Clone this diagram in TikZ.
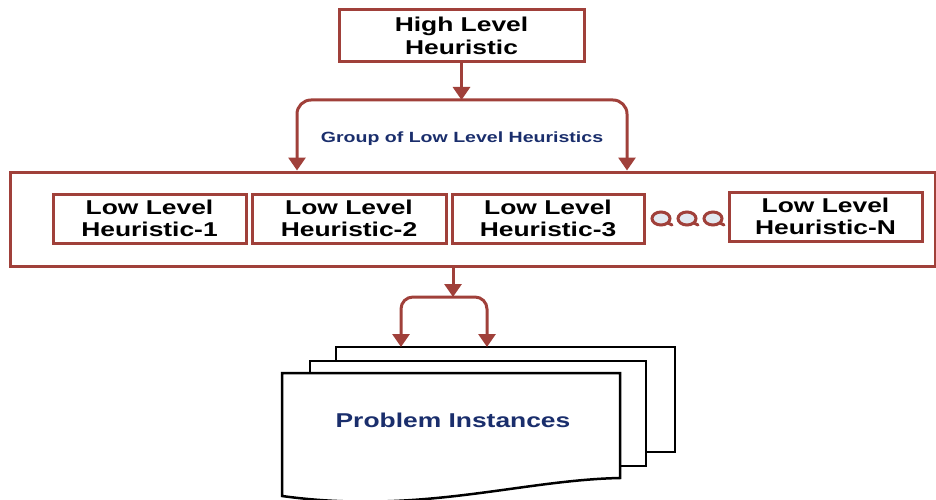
\documentclass[tikz,border=0pt]{standalone}
\usepackage{fontspec}
\setmainfont{Liberation Sans}
\newfontfamily\lblfont[FakeStretch=1.32]{Liberation Sans}
\usetikzlibrary{arrows.meta}
\definecolor{brick}{HTML}{A0403A}
\definecolor{navy}{HTML}{1A2E6C}
\definecolor{bubble}{HTML}{E3E9F1}
\begin{document}
\begin{tikzpicture}[x=1pt,y=-1pt,
  box/.style={draw=brick, line width=3pt, fill=white, inner sep=0pt,
    font=\lblfont\bfseries\fontsize{20}{22.5}\selectfont, align=center},
  arr/.style={draw=brick, line width=3pt, -{Triangle[width=17pt,length=13pt]}},
  arrboth/.style={draw=brick, line width=3pt, {Triangle[width=17pt,length=13pt]}-{Triangle[width=17pt,length=13pt]}},
  doc/.style={draw=black, line width=2.5pt, fill=white},
  dot/.style={draw=brick, line width=3pt, fill=bubble},
  tail/.style={draw=brick, line width=3pt, line cap=round}]
\useasboundingbox (0,0) rectangle (936,500);

% group box and members
\node[box, minimum width=925pt, minimum height=94pt] (grp) at (472.5,219) {};
\node[box, minimum width=245pt, minimum height=52pt] (hlh) at (461.5,36) {High Level\\Heuristic};
\node[box, minimum width=193pt, minimum height=49pt] (l1) at (149.5,218.5) {Low Level\\Heuristic-1};
\node[box, minimum width=194pt, minimum height=49pt] (l2) at (349,218.5) {Low Level\\Heuristic-2};
\node[box, minimum width=192pt, minimum height=49pt] (l3) at (548,218.5) {Low Level\\Heuristic-3};
\node[box, minimum width=193pt, minimum height=49pt] (ln) at (825.5,216.5) {Low Level\\Heuristic-N};

% ellipsis bubbles
\foreach \cx in {661,687,713}{
  \draw[tail] (\cx+5,222) -- (\cx+11,225);
  \draw[dot] (\cx,218.5) ellipse [x radius=9, y radius=6.5];
}

% label
\node[font=\lblfont\bfseries\fontsize{14.8}{17}\selectfont, text=navy] (glab) at (462,139) {Group of Low Level Heuristics};

% top connectors
\coordinate (brk) at (461.5,100);
\draw[arr] (hlh.south) -- (brk);
\path (grp.north) ++(-175.5,0) coordinate (bl);
\path (grp.north) ++(154.5,0) coordinate (br);
\draw[arrboth, rounded corners=14pt] (bl) -- (bl |- brk) -- (br |- brk) -- (br);

% documents
\draw[doc] (336,347) rectangle (675,452);
\draw[doc] (310,361) rectangle (646,466);
\draw[doc] (282,373) -- (620,373) -- (620,478) .. controls (520,480) and (420,515) .. (282,496) -- cycle;
\node[font=\lblfont\bfseries\fontsize{20}{24}\selectfont, text=navy] (pi) at (453,420) {Problem Instances};

% bottom connectors
\coordinate (brk2) at (453,297);
\draw[arr] (grp.south -| brk2) -- (brk2);
\coordinate (d1) at (401,347);
\coordinate (d2) at (487,347);
\draw[arrboth, rounded corners=12pt] (d1) -- (d1 |- brk2) -- (d2 |- brk2) -- (d2);
\end{tikzpicture}
\end{document}
